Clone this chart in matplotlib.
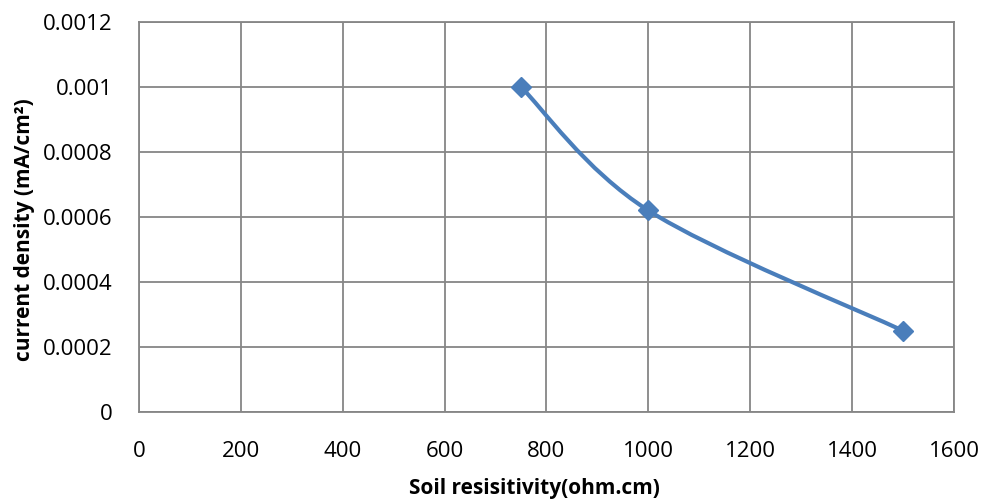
import matplotlib
matplotlib.use("Agg")
import matplotlib.pyplot as plt
import numpy as np
from matplotlib.path import Path
from matplotlib.patches import PathPatch

# Data
resistivity = [750, 1000, 1500]
current_density = [0.001, 0.00062, 0.00025]
x_ticks = [0, 200, 400, 600, 800, 1000, 1200, 1400, 1600]
y_ticks = [0, 0.0002, 0.0004, 0.0006, 0.0008, 0.001, 0.0012]
y_tick_labels = ['0', '0.0002', '0.0004', '0.0006', '0.0008', '0.001', '0.0012']

blue = '#4A7EBB'
grid_gray = '#868686'

plt.rcParams['font.family'] = ['Open Sans', 'DejaVu Sans']

fig = plt.figure(figsize=(9.85, 5.03), dpi=100)
ax = fig.add_axes([0.1411, 0.1809, 0.8274, 0.7754])

# Smoothed line like Excel (Catmull-Rom style bezier through the points)
pts = np.column_stack([resistivity, current_density])
verts = [tuple(pts[0])]
codes = [Path.MOVETO]
n = len(pts)
for i in range(n - 1):
    p0 = pts[i - 1] if i > 0 else pts[i]
    p1 = pts[i]
    p2 = pts[i + 1]
    p3 = pts[i + 2] if i + 2 < n else pts[i + 1]
    c1 = p1 + (p2 - p0) / 6.0
    c2 = p2 - (p3 - p1) / 6.0
    verts += [tuple(c1), tuple(c2), tuple(p2)]
    codes += [Path.CURVE4] * 3
ax.add_patch(PathPatch(Path(verts, codes), facecolor='none', edgecolor=blue,
                       linewidth=3.0, capstyle='round', zorder=3))

ax.plot(resistivity, current_density, linestyle='none', marker='D', markersize=10.5,
        color=blue, zorder=4)

ax.set_xlim(0, 1600)
ax.set_ylim(0, 0.0012)
ax.set_xticks(x_ticks)
ax.set_yticks(y_ticks)
ax.set_yticklabels(y_tick_labels)
ax.tick_params(length=0, labelsize=16, colors='black')
ax.tick_params(axis='y', pad=19)
ax.tick_params(axis='x', pad=21)

ax.grid(True, color=grid_gray, linewidth=1.3)
ax.set_axisbelow(True)
for s in ax.spines.values():
    s.set_color(grid_gray)
    s.set_linewidth(1.3)

ax.set_xlabel('Soil resisitivity(ohm.cm)', fontsize=15, fontweight='bold', va='center')
ax.set_ylabel('current density (mA/cm²)', fontsize=15, fontweight='bold',
              va='center', ha='center')
ax.xaxis.set_label_coords(0.485, -0.195)
ax.yaxis.set_label_coords(-0.14, 0.467)

fig.savefig('out.png', dpi=100)
